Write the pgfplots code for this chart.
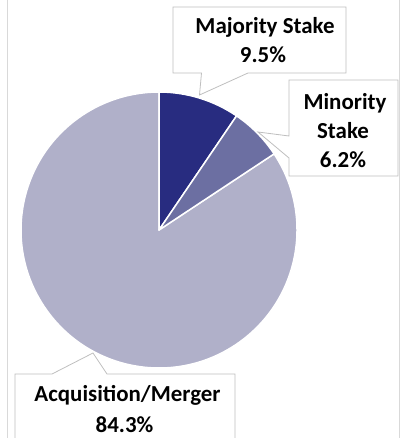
\documentclass[border=0pt]{standalone}
\usepackage{pgfplots}
\pgfplotsset{compat=1.18}
\usepackage{pgfplotstable}
\usepackage{fontspec}
\setmainfont{Carlito}
\definecolor{cMaj}{HTML}{282C80}
\definecolor{cMin}{HTML}{6C6FA2}
\definecolor{cAcq}{HTML}{B0B0C9}
\definecolor{frameC}{HTML}{D9D9D9}
\definecolor{callout}{HTML}{BFBFBF}

\pgfplotstableread{
label value
Majority 9.5
Minority 6.2
Acquisition 84.3
}\piedata

\begin{document}
\begin{tikzpicture}
\useasboundingbox (0,0) rectangle (404bp,438bp);
\pgfplotstablegetelem{0}{value}\of\piedata \let\vA\pgfplotsretval
\pgfplotstablegetelem{1}{value}\of\piedata \let\vB\pgfplotsretval
\pgfplotstablegetelem{2}{value}\of\piedata \let\vC\pgfplotsretval
\pgfmathsetmacro\aA{90-3.6*\vA}
\pgfmathsetmacro\aB{\aA-3.6*\vB}
\pgfmathsetmacro\aC{\aB-3.6*\vC}
\begin{axis}[at={(0,0)}, anchor=south west, width=404bp, height=438bp,
  scale only axis, xmin=0, xmax=404, ymin=0, ymax=438, hide axis, clip=false]
% frame lines
\draw[frameC, line width=0.8bp] (axis cs:7,-2) -- (axis cs:7,440);
\draw[frameC, line width=0.8bp] (axis cs:399,-2) -- (axis cs:399,440);
% pie sectors
\filldraw[fill=cAcq, draw=white, line width=1.5bp, line join=round] (axis cs:159,208) -- ++(\aB:138bp) arc[start angle=\aB, end angle=\aC, radius=138bp] -- cycle;
\filldraw[fill=cMaj, draw=white, line width=1.5bp, line join=round] (axis cs:159,208) -- ++(90:138bp) arc[start angle=90, end angle=\aA, radius=138bp] -- cycle;
\filldraw[fill=cMin, draw=white, line width=1.5bp, line join=round] (axis cs:159,208) -- ++(\aA:138bp) arc[start angle=\aA, end angle=\aB, radius=138bp] -- cycle;
% callouts
\filldraw[fill=white, draw=callout, line width=0.8bp] (axis cs:173,431) -- (axis cs:346,431) -- (axis cs:346,365) -- (axis cs:248,365) -- (axis cs:199.5,343) -- (axis cs:201.5,365) -- (axis cs:173,365) -- cycle;
\filldraw[fill=white, draw=callout, line width=0.8bp] (axis cs:289,358) -- (axis cs:398,358) -- (axis cs:398,262) -- (axis cs:289,262) -- (axis cs:289,280) -- (axis cs:258,306) -- (axis cs:289,302) -- cycle;
\filldraw[fill=white, draw=callout, line width=0.8bp] (axis cs:15,64) -- (axis cs:52,64) -- (axis cs:93,85) -- (axis cs:107,64) -- (axis cs:235,64) -- (axis cs:235,-10) -- (axis cs:15,-10) -- cycle;
% labels
\begin{scope}[every node/.style={anchor=base, inner sep=0pt, font=\bfseries\fontsize{23}{27}\selectfont}]
\node at (axis cs:265,404) {Majority Stake};
\node at (axis cs:263,375) {9.5\%};
\node at (axis cs:345,328) {Minority};
\node at (axis cs:343,299) {Stake};
\node at (axis cs:343,270) {6.2\%};
\node at (axis cs:127.5,36) {Acquisition/Merger};
\node at (axis cs:124.5,6) {84.3\%};
\end{scope}
\end{axis}
\end{tikzpicture}
\end{document}
